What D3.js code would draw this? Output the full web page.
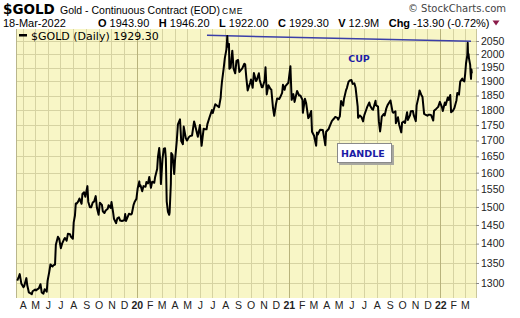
<!DOCTYPE html>
<html><head><meta charset="utf-8">
<script src="https://cdn.jsdelivr.net/npm/d3@7/dist/d3.min.js"></script>
<style>body{margin:0;background:#fff}svg{display:block}</style>
</head><body><svg id="c" width="520" height="318"></svg>
<script>
// ---- data ----
const dates = [
"2019-03-19","2019-03-22","2019-03-25","2019-03-29","2019-04-03","2019-04-05","2019-04-10","2019-04-12","2019-04-16","2019-04-18","2019-04-23","2019-04-25","2019-05-01","2019-05-03","2019-05-07","2019-05-10","2019-05-14","2019-05-17","2019-05-21","2019-05-24","2019-05-29","2019-05-31",
"2019-06-04","2019-06-07","2019-06-12","2019-06-14","2019-06-18","2019-06-20","2019-06-25","2019-06-28","2019-07-02","2019-07-05","2019-07-10","2019-07-12","2019-07-16","2019-07-19","2019-07-24","2019-07-26","2019-07-31",
"2019-08-02","2019-08-05","2019-08-07","2019-08-09","2019-08-13","2019-08-16","2019-08-21","2019-08-23","2019-08-27","2019-08-30","2019-09-04","2019-09-06","2019-09-10","2019-09-13","2019-09-17","2019-09-20","2019-09-24","2019-09-27",
"2019-10-01","2019-10-04","2019-10-09","2019-10-11","2019-10-15","2019-10-18","2019-10-23","2019-10-25","2019-10-30","2019-11-01","2019-11-05","2019-11-07","2019-11-12","2019-11-15","2019-11-19","2019-11-22","2019-11-26",
"2019-12-02","2019-12-04","2019-12-06","2019-12-11","2019-12-13","2019-12-18","2019-12-20","2019-12-24","2019-12-27","2019-12-31",
"2020-01-03","2020-01-07","2020-01-08","2020-01-10","2020-01-14","2020-01-17","2020-01-22","2020-01-24","2020-01-28","2020-01-31","2020-02-04","2020-02-07","2020-02-12","2020-02-14","2020-02-19","2020-02-21","2020-02-24","2020-02-26","2020-02-28",
"2020-03-03","2020-03-06","2020-03-09","2020-03-11","2020-03-13","2020-03-16","2020-03-19","2020-03-20","2020-03-23","2020-03-24","2020-03-27","2020-03-31",
"2020-04-02","2020-04-06","2020-04-09","2020-04-14","2020-04-17","2020-04-21","2020-04-23","2020-04-28","2020-05-01","2020-05-05","2020-05-08","2020-05-13","2020-05-18","2020-05-20","2020-05-27",
"2020-06-01","2020-06-05","2020-06-10","2020-06-12","2020-06-17","2020-06-19","2020-06-24","2020-06-30","2020-07-02","2020-07-08","2020-07-14","2020-07-17","2020-07-21","2020-07-22","2020-07-24","2020-07-28","2020-07-31",
"2020-08-04","2020-08-06","2020-08-07","2020-08-10","2020-08-11","2020-08-14","2020-08-18","2020-08-21","2020-08-25","2020-08-28","2020-09-01","2020-09-04","2020-09-11","2020-09-16","2020-09-18","2020-09-21","2020-09-24","2020-09-30",
"2020-10-02","2020-10-06","2020-10-09","2020-10-14","2020-10-16","2020-10-21","2020-10-23","2020-10-28","2020-10-30","2020-11-04","2020-11-06","2020-11-09","2020-11-13","2020-11-18","2020-11-20","2020-11-24","2020-11-27",
"2020-12-01","2020-12-04","2020-12-09","2020-12-11","2020-12-16","2020-12-18","2020-12-22","2020-12-24","2020-12-31",
"2021-01-05","2021-01-06","2021-01-08","2021-01-12","2021-01-15","2021-01-21","2021-01-26","2021-01-29","2021-02-03","2021-02-04","2021-02-09","2021-02-12","2021-02-17","2021-02-19","2021-02-24","2021-02-26",
"2021-03-03","2021-03-08","2021-03-10","2021-03-12","2021-03-16","2021-03-18","2021-03-24","2021-03-30","2021-04-01","2021-04-07","2021-04-09","2021-04-15","2021-04-19","2021-04-23","2021-04-28","2021-04-30",
"2021-05-04","2021-05-07","2021-05-12","2021-05-14","2021-05-19","2021-05-21","2021-05-25","2021-05-28","2021-06-01","2021-06-04","2021-06-08","2021-06-11","2021-06-16","2021-06-17","2021-06-21","2021-06-25","2021-06-29",
"2021-07-02","2021-07-07","2021-07-09","2021-07-14","2021-07-16","2021-07-21","2021-07-23","2021-07-29","2021-07-30","2021-08-04","2021-08-06","2021-08-09","2021-08-11","2021-08-13","2021-08-18","2021-08-20","2021-08-24","2021-08-27",
"2021-09-03","2021-09-08","2021-09-10","2021-09-15","2021-09-16","2021-09-21","2021-09-24","2021-09-29","2021-10-01","2021-10-06","2021-10-08","2021-10-13","2021-10-15","2021-10-20","2021-10-22","2021-10-27","2021-10-29",
"2021-11-03","2021-11-05","2021-11-10","2021-11-12","2021-11-16","2021-11-19","2021-11-23","2021-11-26","2021-12-01","2021-12-03","2021-12-08","2021-12-10","2021-12-15","2021-12-17","2021-12-22","2021-12-27","2021-12-31",
"2022-01-05","2022-01-07","2022-01-12","2022-01-14","2022-01-19","2022-01-21","2022-01-25","2022-01-27","2022-01-31","2022-02-04","2022-02-09","2022-02-11","2022-02-15","2022-02-18","2022-02-23","2022-02-24","2022-02-28",
"2022-03-02","2022-03-04","2022-03-07","2022-03-08","2022-03-09","2022-03-10","2022-03-11","2022-03-14","2022-03-15","2022-03-16","2022-03-17","2022-03-18"
];
const closes = [
1306,1313,1322,1298,1290,1293,1312,1295,1277,1276,1273,1280,1284,1282,1285,1287,1297,1277,1274,1285,1279,1305,
1327,1346,1341,1344,1346,1397,1418,1413,1388,1400,1412,1415,1408,1426,1425,1419,1413,
1457,1476,1510,1509,1516,1524,1509,1537,1542,1529,1560,1515,1499,1499,1513,1515,1531,1497,
1478,1512,1506,1488,1483,1490,1495,1505,1497,1514,1484,1467,1455,1468,1471,1462,1461,
1463,1480,1461,1475,1481,1479,1481,1505,1515,1523,
1553,1574,1560,1562,1545,1560,1558,1572,1568,1587,1555,1573,1570,1586,1611,1649,1676,1643,1566,
1644,1674,1675,1642,1516,1486,1478,1484,1567,1660,1654,1596,
1637,1694,1752,1769,1698,1688,1745,1707,1700,1710,1714,1716,1762,1752,1712,
1750,1683,1738,1737,1736,1753,1775,1800,1790,1820,1813,1810,1843,1865,1897,1944,1985,
2019,2069,2028,2039,1946,1950,2013,1947,1929,1975,1978,1934,1947,1964,1962,1910,1868,1895,
1907,1877,1930,1901,1905,1929,1905,1879,1879,1904,1951,1854,1886,1873,1871,1808,1781,
1819,1840,1838,1843,1859,1888,1870,1883,1895,
1955,1912,1835,1855,1828,1866,1850,1850,1835,1791,1839,1823,1773,1777,1797,1728,
1715,1683,1726,1719,1731,1735,1734,1685,1728,1737,1744,1764,1770,1777,1774,1768,
1779,1831,1815,1838,1869,1876,1899,1903,1905,1891,1893,1877,1812,1774,1782,1777,1762,
1783,1803,1811,1826,1815,1803,1801,1832,1817,1812,1763,1729,1751,1778,1787,1782,1806,1817,
1833,1794,1791,1796,1756,1776,1751,1726,1758,1762,1757,1793,1767,1782,1796,1797,1783,
1763,1816,1848,1868,1853,1846,1787,1785,1781,1784,1784,1783,1765,1798,1804,1811,1828,
1810,1797,1826,1817,1843,1835,1852,1793,1797,1807,1834,1859,1853,1899,1910,1904,1900,
1928,1966,1995,2043,1988,2000,1985,1960,1929,1909,1943,1929.3
];
const yTicks = [1300,1350,1400,1450,1500,1550,1600,1650,1700,1750,1800,1850,1900,1950,2000,2050];
const monthLabels = ["A","M","J","J","A","S","O","N","D","20","F","M","A","M","J","J","A","S","O","N","D","21","F","M","A","M","J","J","A","S","O","N","D","22","F","M"];
const cupLineDates = ["2020-06-18","2022-03-16"];
const cupLineValues = [2072,2049];
const ohlcLabels = ["O","H","L","C","V","Chg"];
const ohlcValues = ["1943.90","1946.20","1922.00","1929.30","12.9M","-13.90 (-0.72%)"];

// ---- layout ----
const L = 16, R = 476, T = 29, B = 298;
const parse = d3.timeParse("%Y-%m-%d");
const svg = d3.select("#c");
const SANS = "'Liberation Sans', Arial, sans-serif";
const VER = "'DejaVu Sans', Verdana, sans-serif";

const x = d3.scaleTime().domain([parse("2019-03-16"), parse("2022-03-28")]).range([L, R]);
const y = d3.scaleLog().domain([1263.8, 2096.8]).range([B, T]);

const data = dates.map((d, i) => ({date: parse(d), v: closes[i]}));

// background
svg.append("rect").attr("x", L).attr("y", T).attr("width", R - L).attr("height", B - T).attr("fill", "#f8f6c6");

// grid
const months = d3.timeMonth.range(parse("2019-04-01"), parse("2022-04-01"));
const g = svg.append("g");
g.selectAll("line.h").data(yTicks).join("line")
  .attr("x1", L).attr("x2", R)
  .attr("y1", d => Math.round(y(d)) + 0.5).attr("y2", d => Math.round(y(d)) + 0.5)
  .attr("stroke", "#d6d3a2").attr("stroke-width", 1);
g.selectAll("line.v").data(months).join("line")
  .attr("x1", d => Math.round(x(d)) + 0.5).attr("x2", d => Math.round(x(d)) + 0.5)
  .attr("y1", T).attr("y2", B)
  .attr("stroke", d => d.getMonth() === 0 ? "#b8b37c" : "#d6d3a2").attr("stroke-width", 1);

// frame
svg.append("line").attr("x1", L + 0.5).attr("x2", L + 0.5).attr("y1", T).attr("y2", B).attr("stroke", "#b9b68c");
svg.append("line").attr("x1", R + 0.5).attr("x2", R + 0.5).attr("y1", T).attr("y2", B).attr("stroke", "#c9c69c");

// y axis
const ya = svg.append("g").attr("transform", `translate(${R},0)`)
  .call(d3.axisRight(y).tickValues(yTicks).tickSize(3).tickPadding(2).tickFormat(d3.format("d")));
ya.select(".domain").remove();
ya.selectAll("line").attr("stroke", "#888");
ya.selectAll("text").attr("font-family", SANS).attr("font-size", 10.5).attr("fill", "#222");

// x axis
const xa = svg.append("g").attr("transform", `translate(0,${B})`)
  .call(d3.axisBottom(x).tickValues(months).tickSize(0).tickPadding(4).tickFormat((d, i) => monthLabels[i]));
xa.select(".domain").remove();
xa.selectAll("text").attr("font-family", SANS).attr("font-size", 10.5).attr("fill", "#222")
  .attr("font-weight", (d, i) => /\d/.test(monthLabels[i]) ? "bold" : "normal");

// cup line
const cup = cupLineDates.map((d, i) => ({date: parse(d), v: cupLineValues[i]}));
svg.append("path").datum(cup)
  .attr("d", d3.line().x(d => x(d.date)).y(d => y(d.v)))
  .attr("stroke", "#3b3fa8").attr("stroke-width", 1.5).attr("fill", "none");

// price line
svg.append("path").datum(data)
  .attr("d", d3.line().x(d => x(d.date)).y(d => y(d.v)))
  .attr("fill", "none").attr("stroke", "#000").attr("stroke-width", 2).attr("stroke-linejoin", "round");

// legend
svg.append("rect").attr("x", 19).attr("y", 34).attr("width", 8).attr("height", 2.5).attr("fill", "#000");
svg.append("text").attr("x", 31).attr("y", 39.5).attr("font-family", VER).attr("font-size", 11).attr("fill", "#000")
  .text("$GOLD (Daily) 1929.30");

// annotations
svg.append("text").attr("x", 359).attr("y", 62).attr("text-anchor", "middle")
  .attr("font-family", VER).attr("font-weight", "bold").attr("font-size", 9.5).attr("fill", "#1c1ca6").text("CUP");
svg.append("rect").attr("x", 339).attr("y", 145).attr("width", 55).attr("height", 20).attr("fill", "#a8a8a0");
svg.append("rect").attr("x", 337.5).attr("y", 143.5).attr("width", 54).attr("height", 19).attr("fill", "#fff").attr("stroke", "#8a8a8a");
svg.append("text").attr("x", 341).attr("y", 157).attr("font-family", VER).attr("font-weight", "bold")
  .attr("font-size", 9.5).attr("fill", "#1c1ca6").text("HANDLE");

// header
svg.append("text").attr("x", 3).attr("y", 14).attr("font-family", VER).attr("font-weight", "bold")
  .attr("font-size", 13.5).attr("fill", "#000").text("$GOLD");
svg.append("text").attr("x", 60).attr("y", 14).attr("font-family", SANS).attr("font-size", 10.5).attr("fill", "#000")
  .text("Gold - Continuous Contract (EOD)");
svg.append("text").attr("x", 222).attr("y", 14).attr("font-family", SANS).attr("font-size", 8.5)
  .attr("letter-spacing", 0.8).attr("fill", "#000").text("CME");
svg.append("text").attr("x", 506).attr("y", 12).attr("text-anchor", "end").attr("font-family", VER)
  .attr("font-size", 10).attr("fill", "#444").text("\u00A9 StockCharts.com");

svg.append("text").attr("x", 3).attr("y", 26.5).attr("font-family", SANS).attr("font-size", 11).attr("fill", "#000")
  .text("18-Mar-2022");
let cx = 98;
ohlcLabels.forEach((lab, i) => {
  const t1 = svg.append("text").attr("x", cx).attr("y", 26.5).attr("font-family", SANS).attr("font-weight", "bold")
    .attr("font-size", 11).attr("fill", "#000").text(lab);
  cx += t1.node().getComputedTextLength() + 3;
  const t2 = svg.append("text").attr("x", cx).attr("y", 26.5).attr("font-family", SANS)
    .attr("font-size", 11).attr("fill", "#000").text(ohlcValues[i]);
  cx += t2.node().getComputedTextLength() + 9.5;
});
const tx = cx - 6.5;
svg.append("path").attr("d", `M${tx},20.5 L${tx + 7},20.5 L${tx + 3.5},25.5 Z`).attr("fill", "#8b1c4a");
</script></body></html>
